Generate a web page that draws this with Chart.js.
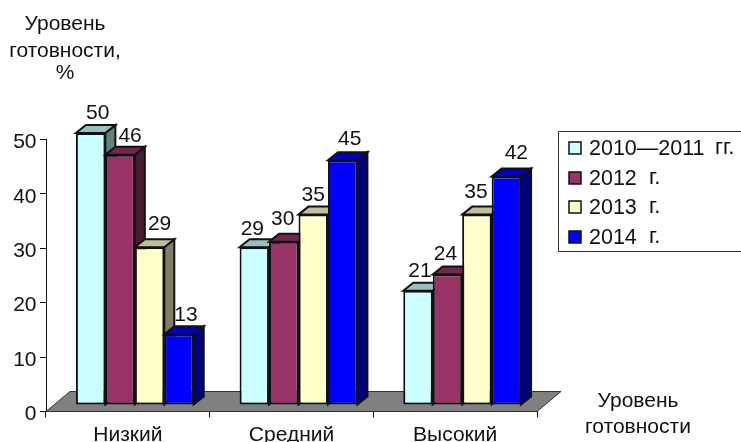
<!DOCTYPE html>
<html>
<head>
<meta charset="utf-8">
<script src="https://cdn.jsdelivr.net/npm/chart.js@4"></script>
<style>
  body { margin: 0; background: #fff; }
  canvas { display: block; }
</style>
</head>
<body>
<canvas id="chart" width="741" height="442"></canvas>
<script>
const categories = ["Низкий", "Средний", "Высокий"];
const seriesNames = ["2010—2011", "2012", "2013", "2014"];
const seriesUnits = ["гг.", "г.", "г.", "г."];
const values2010 = [50, 29, 21];
const values2012 = [46, 30, 24];
const values2013 = [29, 35, 35];
const values2014 = [13, 45, 42];
const yTicks = [0, 10, 20, 30, 40, 50];
const yTitle = ["Уровень", "готовности,", "%"];
const xTitle = ["Уровень", "готовности"];

const seriesValues = [values2010, values2012, values2013, values2014];
const frontColors = ["#ccffff", "#993366", "#ffffcc", "#0000ff"];
const topColors = ["#99bfbf", "#732650", "#bfbf99", "#0000bf"];
const sideColors = ["#668080", "#4d1a33", "#808066", "#000080"];

// the value labels were placed by hand in the original, so nudge them per bar
const labelNudgeX = [[7, -2, 2], [10, -1, -2], [10, 0, -1], [7, 7, 10]];
const labelNudgeY = [[-20, -18, -20], [-19, -23, -20], [-23, -19, -22], [-19, -21, -23]];

const FAMILY = "'Liberation Sans', Arial, sans-serif";
const FONT = "21px " + FAMILY;
const INK = "#111";
const shiftX = 7, shiftY = 6.5;  // bars stand a bit inside the floor
const depthX = 10, depthY = 8;

function poly(ctx, pts, fill, stroke, lw) {
  ctx.beginPath();
  pts.forEach((p, i) => (i ? ctx.lineTo(p[0], p[1]) : ctx.moveTo(p[0], p[1])));
  ctx.closePath();
  ctx.fillStyle = fill;
  ctx.fill();
  ctx.lineWidth = lw;
  ctx.strokeStyle = stroke;
  ctx.stroke();
}

function textLines(ctx, lines, x, ys) {
  lines.forEach((t, i) => ctx.fillText(t, x, ys[i]));
}

const bars3d = {
  id: "bars3d",
  // floor, side faces and value labels are not something Chart.js draws for bars
  beforeDatasetsDraw(chart) {
    const ctx = chart.ctx;
    const { left, right, bottom } = chart.chartArea;
    const floorX = 24, floorY = 20;
    poly(ctx, [[left, bottom], [left + floorX, bottom - floorY], [right + floorX, bottom - floorY], [right, bottom]], "#808080", "#333", 1);

    chart.data.datasets.forEach((ds, di) => {
      const meta = chart.getDatasetMeta(di);
      ctx.save();
      ctx.translate(shiftX, -shiftY);
      meta.data.forEach((bar) => {
        const l = bar.x - bar.width / 2, r = bar.x + bar.width / 2;
        poly(ctx, [[r, bar.y], [r + depthX, bar.y - depthY], [r + depthX, bar.base - depthY], [r, bar.base]], sideColors[di], INK, 2);
        poly(ctx, [[l, bar.y], [l + depthX, bar.y - depthY], [r + depthX, bar.y - depthY], [r, bar.y]], topColors[di], INK, 2);
      });
      meta.controller.draw();
      ctx.restore();
    });

    ctx.save();
    ctx.font = FONT;
    ctx.fillStyle = INK;
    ctx.textAlign = "center";
    ctx.textBaseline = "middle";
    chart.data.datasets.forEach((ds, di) => {
      chart.getDatasetMeta(di).data.forEach((bar, i) => {
        ctx.fillText(ds.data[i], bar.x + shiftX + labelNudgeX[di][i], bar.y - shiftY + labelNudgeY[di][i]);
      });
    });
    ctx.restore();
    return false;
  },
  afterDraw(chart) {
    const ctx = chart.ctx;
    ctx.save();
    ctx.font = FONT;
    ctx.fillStyle = INK;
    ctx.textBaseline = "middle";

    // y tick labels sit a little below their tick marks
    ctx.textAlign = "right";
    yTicks.forEach((v) => ctx.fillText(v, 36.5, chart.scales.y.getPixelForValue(v) + 3));

    ctx.textAlign = "center";
    textLines(ctx, yTitle, 65, [24, 51, 73]);
    textLines(ctx, xTitle, 638, [401, 427]);

    // legend, its box runs off the right edge like in the original
    ctx.strokeStyle = "#333";
    ctx.lineWidth = 1;
    ctx.beginPath();
    ctx.moveTo(745, 131.5);
    ctx.lineTo(558.5, 131.5);
    ctx.lineTo(558.5, 251.5);
    ctx.lineTo(745, 251.5);
    ctx.stroke();
    const rows = [148, 178, 207, 237];
    const unitX = [715, 649, 649, 649];
    ctx.textAlign = "left";
    seriesNames.forEach((name, i) => {
      poly(ctx, [[569, rows[i] - 6], [581, rows[i] - 6], [581, rows[i] + 6], [569, rows[i] + 6]], frontColors[i], INK, 1.5);
      ctx.fillStyle = INK;
      ctx.font = "21.5px " + FAMILY;
      ctx.fillText(name, 589, rows[i] + 1);
      ctx.font = "22px " + FAMILY;
      ctx.fillText(seriesUnits[i], unitX[i], rows[i]);
    });
    ctx.restore();
  },
};

new Chart(document.getElementById("chart"), {
  type: "bar",
  data: {
    labels: categories,
    datasets: seriesNames.map((name, i) => ({
      label: name,
      data: seriesValues[i],
      backgroundColor: frontColors[i],
      borderColor: INK,
      borderWidth: 2,
      borderSkipped: false,
      categoryPercentage: 0.72,
      barPercentage: 1,
    })),
  },
  options: {
    responsive: false,
    animation: false,
    layout: { padding: { top: 139.5, right: 204, left: 0, bottom: 0 } },
    plugins: { legend: { display: false }, tooltip: { enabled: false } },
    scales: {
      x: {
        afterFit: (s) => { s.height = 30.5; },
        border: { color: INK, width: 1 },
        grid: { drawOnChartArea: false, color: INK, tickLength: 6 },
        ticks: { color: INK, padding: 5, maxRotation: 0, font: { family: FAMILY, size: 21 } },
      },
      y: {
        min: 0,
        max: 50,
        afterFit: (s) => { s.width = 46; },
        afterBuildTicks: (s) => { s.ticks = yTicks.map((v) => ({ value: v })); },
        border: { color: INK, width: 1 },
        grid: { drawOnChartArea: false, color: INK, tickLength: 6 },
        ticks: { display: false },
      },
    },
  },
  plugins: [bars3d],
});
</script>
</body>
</html>
